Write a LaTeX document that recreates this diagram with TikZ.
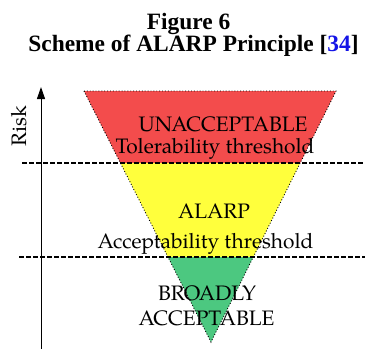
\documentclass[tikz,border=0pt]{standalone}
\usepackage{fontspec}
\setmainfont{Liberation Serif}
\newfontfamily\labelfont{TeX Gyre Pagella}
\usetikzlibrary{arrows.meta,calc}
\definecolor{zonered}{RGB}{243,76,76}
\definecolor{zoneyellow}{RGB}{255,255,60}
\definecolor{zonegreen}{RGB}{76,200,128}
\definecolor{citeblue}{RGB}{20,20,230}
\begin{document}
\begin{tikzpicture}[x=1bp,y=-1bp,
  titletext/.style={font=\fontsize{23.5}{20.5}\selectfont\bfseries, align=center, inner sep=0pt},
  zonetext/.style={font=\labelfont\fontsize{21}{21}\selectfont, anchor=base, inner sep=0pt},
  threshold/.style={line width=1.5bp, dash pattern=on 4.5bp off 2.5bp},
  outline/.style={line width=0.9bp, dotted}]
\useasboundingbox (0,0) rectangle (365,349);

% title (two lines, the first nudged left)
\node[titletext] (title) at (193.5,35) {Figure 6\hspace*{10bp}\\Scheme of ALARP Principle [{\color{citeblue}34}]};

% inverted triangle corners and threshold crossings
\coordinate (tl) at (84,91);
\coordinate (tr) at (336,91);
\coordinate (apex) at (211,342);
\coordinate (l1) at ($(tl)!0.2869!(apex)$);
\coordinate (r1) at ($(tr)!0.2880!(apex)$);
\coordinate (l2) at ($(tl)!0.6614!(apex)$);
\coordinate (r2) at ($(tr)!0.6614!(apex)$);

% zones
\fill[zonered] (tl) -- (tr) -- (r1) -- (l1) -- cycle;
\fill[zoneyellow] (l1) -- (r1) -- (r2) -- (l2) -- cycle;
\fill[zonegreen] (l2) -- (r2) -- (apex) -- cycle;
\draw[outline] (tl) -- (tr) -- (apex) -- cycle;

% risk axis
\coordinate (axbot) at (41,349);
\coordinate (axtop) at (41,87);
\draw[line width=1bp, -{Triangle[length=12bp,width=8bp]}] (axbot) -- (axtop);
\node[font=\labelfont\fontsize{21}{21}\selectfont, rotate=90, inner sep=0pt] (risk) at (19,126) {Risk};

% thresholds
\coordinate (t1a) at (22,163);
\coordinate (t1b) at (365,163);
\coordinate (t2a) at (19,257);
\coordinate (t2b) at (365,257);
\draw[threshold] (t1a) -- (t1b);
\draw[threshold] (t2a) -- (t2b);

% zone labels
\node[zonetext] (unacc) at (223,131) {UNACCEPTABLE};
\node[zonetext] (toler) at (215,153) {Tolerability threshold};
\node[zonetext] (alarp) at (214,218) {ALARP};
\node[zonetext] (accept) at (205.5,248) {Acceptability threshold};
\node[zonetext] (broad) at (207,300) {BROADLY};
\node[zonetext] (acc2) at (206.5,325) {ACCEPTABLE};
\end{tikzpicture}
\end{document}
